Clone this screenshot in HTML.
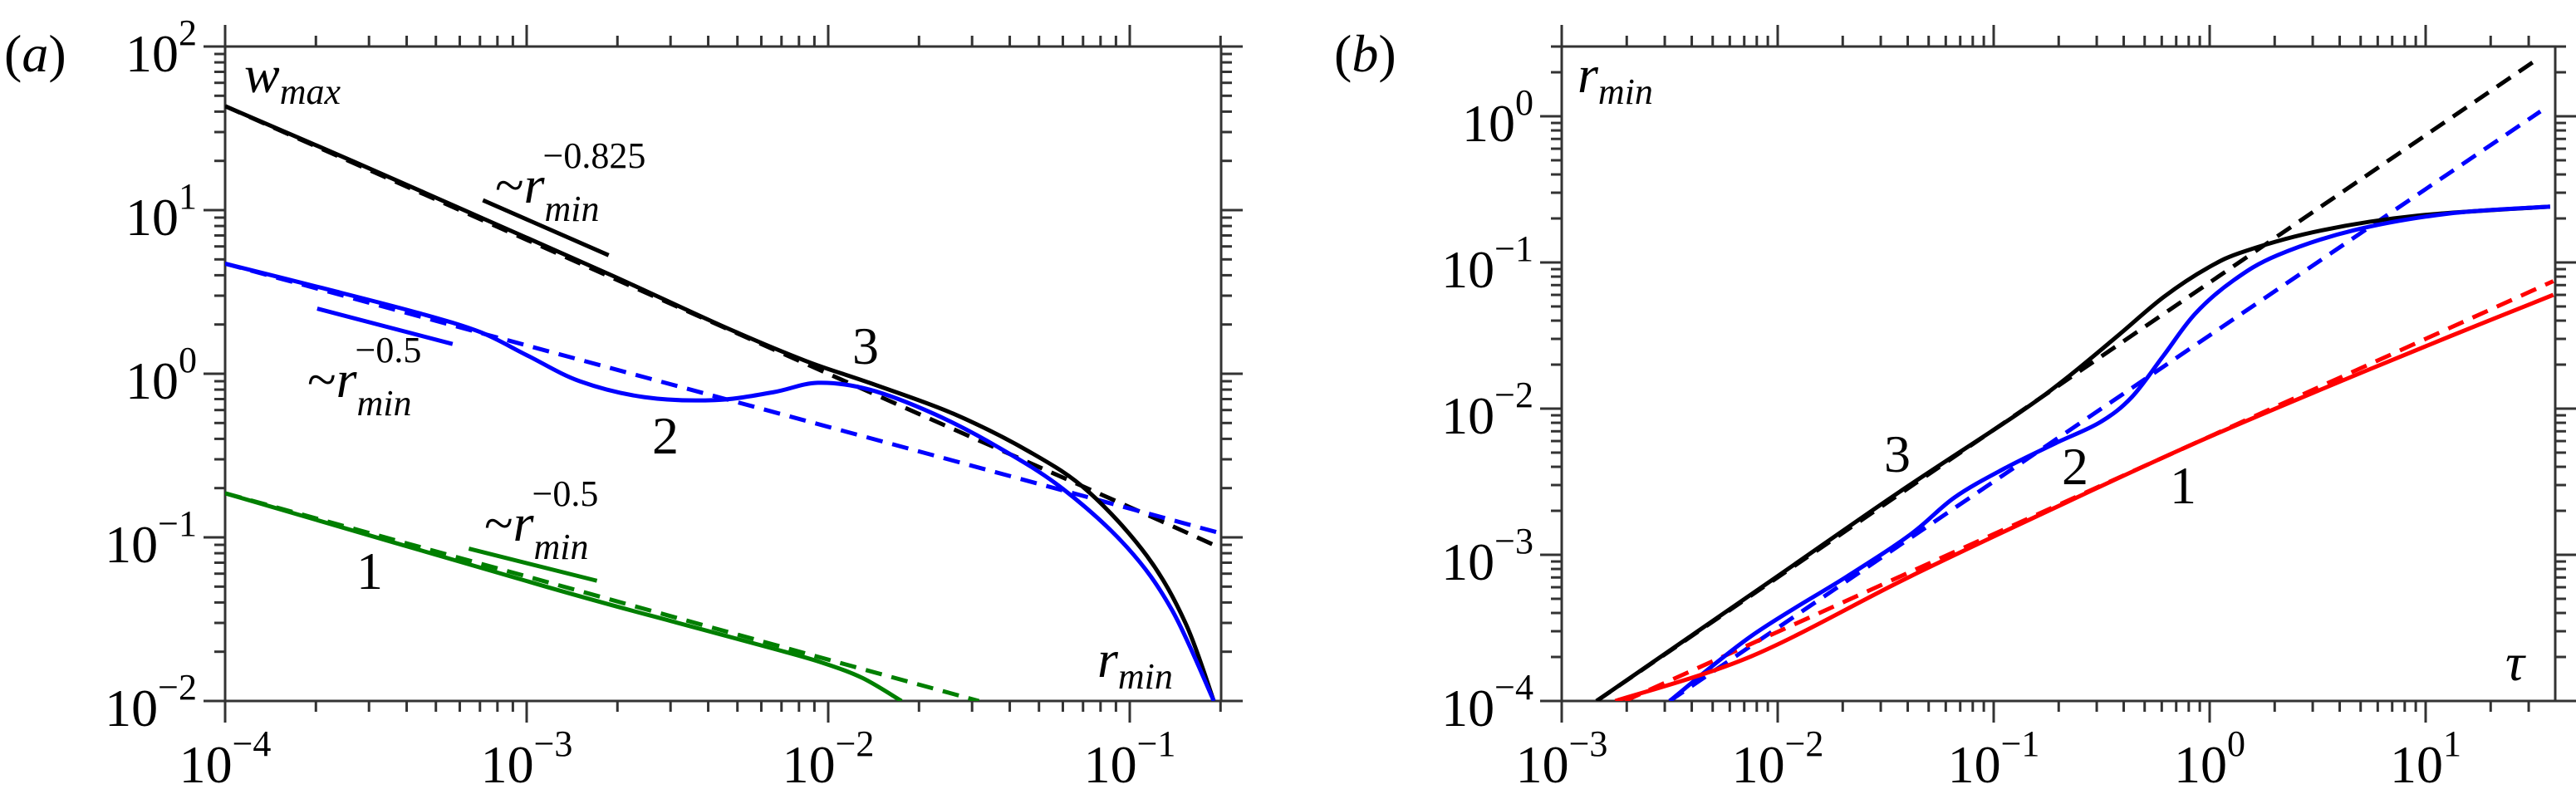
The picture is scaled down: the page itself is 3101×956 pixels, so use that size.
<!DOCTYPE html>
<html><head><meta charset="utf-8"><style>
html,body{margin:0;padding:0;background:#fff;}
svg{display:block;font-family:"Liberation Serif",serif;}
</style></head><body>
<svg id="fig" width="3101" height="956" viewBox="0 0 3101 956" xmlns="http://www.w3.org/2000/svg">
<defs>
<clipPath id="clipA"><rect x="271" y="56" width="1199" height="788"/></clipPath>
<clipPath id="clipB"><rect x="1880" y="56" width="1196" height="788"/></clipPath>
</defs>
<g id="panelA"></g>
<g id="panelB"></g>
<text x="5" y="86" font-size="64">(<tspan font-style="italic">a</tspan>)</text>
<text x="1606" y="86" font-size="64">(<tspan font-style="italic">b</tspan>)</text>
</svg>
<script>
// ---------- Panel (a) data: w_max vs r_min ----------
const a_black_r = [1e-4, 2.67e-4, 7.16e-4, 1.91e-3, 4.42e-3, 8.4e-3, 0.0137, 0.026, 0.047, 0.073, 0.114, 0.153, 0.19];
const a_black_w = [43.2, 19.8, 8.9, 4.0, 1.97, 1.20, 0.88, 0.57, 0.33, 0.19, 0.077, 0.030, 0.01];
const a_blackDash_r = [1e-4, 1e-3, 1e-2, 0.1, 0.195];
const a_blackDash_w = [43.2, 6.59, 1.00, 0.153, 0.088];
const a_blue_r = [1e-4, 2.09e-4, 4.38e-4, 7.0e-4, 1.0e-3, 1.5e-3, 2.45e-3, 4.21e-3, 6.55e-3, 9.24e-3, 0.0137, 0.0224, 0.0366, 0.060, 0.098, 0.138, 0.19];
const a_blue_w = [4.71, 3.35, 2.35, 1.80, 1.30, 0.90, 0.72, 0.69, 0.77, 0.88, 0.80, 0.569, 0.356, 0.198, 0.0869, 0.036, 0.01];
const a_blueDash_r = [1e-4, 1e-3, 1e-2, 0.1, 0.2];
const a_blueDash_w = [4.71, 1.49, 0.474, 0.150, 0.106];
const a_green_r = [1e-4, 1.17e-3, 3.13e-3, 6.5e-3, 9.5e-3, 0.0130, 0.0175];
const a_green_w = [0.186, 0.0497, 0.0302, 0.0210, 0.0172, 0.0138, 0.01];
const a_greenDash_r = [1e-4, 1e-3, 1e-2, 0.0316];
const a_greenDash_w = [0.186, 0.0577, 0.0179, 0.01];
const a_refBlack_r = [7.16e-4, 1.87e-3], a_refBlack_w = [11.5, 5.30];
const a_refBlue_r = [2.02e-4, 5.68e-4], a_refBlue_w = [2.50, 1.52];
const a_refGreen_r = [6.43e-4, 1.71e-3], a_refGreen_w = [0.0853, 0.0543];
const a_xTicks = [-4, -3, -2, -1];
const a_yTicks = [-2, -1, 0, 1, 2];

// ---------- Panel (b) data: r_min vs tau ----------
const b_black_t = [1.45e-3, 9.3e-3, 0.0359, 0.129, 0.222, 0.381, 0.612, 0.982, 1.47, 3.31, 9.12, 37.7];
const b_black_r = [1e-4, 6.64e-4, 2.64e-3, 9.2e-3, 0.0166, 0.0321, 0.058, 0.092, 0.120, 0.166, 0.209, 0.241];
const b_blackDash_t = [1.45e-3, 1.0, 32.9];
const b_blackDash_r = [1e-4, 0.073, 2.46];
const b_blue_t = [3.16e-3, 7.59e-3, 0.0209, 0.041, 0.0659, 0.113, 0.194, 0.311, 0.436, 0.612, 0.857, 1.29, 2.06, 4.64, 12.8, 37.7];
const b_blue_r = [1e-4, 2.8e-4, 7.1e-4, 1.37e-3, 2.47e-3, 3.92e-3, 5.81e-3, 8.07e-3, 0.0120, 0.0231, 0.0446, 0.0755, 0.112, 0.166, 0.216, 0.241];
const b_blueDash_t = [3.16e-3, 34.0];
const b_blueDash_r = [1e-4, 1.08];
const b_red_t = [1.77e-3, 7.59e-3, 0.041, 0.222, 0.857, 3.31, 12.8, 39.0];
const b_red_r = [1e-4, 2.03e-4, 7.1e-4, 2.32e-3, 5.81e-3, 0.0136, 0.031, 0.060];
const b_redDash_t = [1.96e-3, 39.0];
const b_redDash_r = [1e-4, 0.0745];
const b_xTicks = [-3, -2, -1, 0, 1];
const b_yTicks = [-4, -3, -2, -1, 0];

const NS = "http://www.w3.org/2000/svg";
function mk(tag, attrs, parent) {
  const e = document.createElementNS(NS, tag);
  for (const k in attrs) e.setAttribute(k, attrs[k]);
  parent.appendChild(e);
  return e;
}
function makeAxis(L, R, T, B, xmin, xmax, ymin, ymax) {
  return {
    L, R, T, B,
    x: v => L + (Math.log10(v) - xmin) / (xmax - xmin) * (R - L),
    y: v => B - (Math.log10(v) - ymin) / (ymax - ymin) * (B - T),
    xmin, xmax, ymin, ymax
  };
}
const AX = makeAxis(271, 1470, 56, 844, -4, -4 + 1199 / 363, -2, 2);
const BX = makeAxis(1880, 3076, 56, 844, -3, -3 + 1196 / 260, -4, -4 + 788 / 176);

function smoothPath(px) {
  if (px.length === 2) return `M${px[0][0]},${px[0][1]} L${px[1][0]},${px[1][1]}`;
  let d = `M${px[0][0]},${px[0][1]}`;
  for (let i = 0; i < px.length - 1; i++) {
    const p0 = px[i - 1] || px[i], p1 = px[i], p2 = px[i + 1], p3 = px[i + 2] || px[i + 1];
    const c1x = p1[0] + (p2[0] - p0[0]) / 6, c1y = p1[1] + (p2[1] - p0[1]) / 6;
    const c2x = p2[0] - (p3[0] - p1[0]) / 6, c2y = p2[1] - (p3[1] - p1[1]) / 6;
    d += ` C${c1x.toFixed(1)},${c1y.toFixed(1)} ${c2x.toFixed(1)},${c2y.toFixed(1)} ${p2[0].toFixed(1)},${p2[1].toFixed(1)}`;
  }
  return d;
}
function series(g, ax, xs, ys, color, dashed, name, clip) {
  const pts = xs.map((v, i) => [ax.x(v), ax.y(ys[i])]);
  const p = mk("path", {d: smoothPath(pts), fill: "none", stroke: color, "stroke-width": 5,
    "stroke-dasharray": dashed ? "20 12" : "none", "clip-path": clip}, g);
  
  
  return p;
}
function frameAndTicks(g, ax, xT, yT, prefix) {
  const col = "#333";
  const fr = mk("rect", {x: ax.L, y: ax.T, width: ax.R - ax.L, height: ax.B - ax.T, fill: "none", stroke: col, "stroke-width": 3}, g);
  
  
  const tg = mk("g", {stroke: col, "stroke-width": 3}, g);
  
  
  for (let d = Math.floor(ax.xmin); d <= Math.ceil(ax.xmax); d++) {
    for (let m = 1; m <= 9; m++) {
      const lv = d + Math.log10(m);
      if (lv < ax.xmin - 1e-6 || lv > ax.xmax + 1e-6) continue;
      const X = ax.L + (lv - ax.xmin) / (ax.xmax - ax.xmin) * (ax.R - ax.L);
      const len = m === 1 ? 26 : 13;
      mk("line", {x1: X, y1: ax.B, x2: X, y2: ax.B + len}, tg);
      mk("line", {x1: X, y1: ax.T, x2: X, y2: ax.T - len}, tg);
    }
  }
  for (let d = Math.floor(ax.ymin); d <= Math.ceil(ax.ymax); d++) {
    for (let m = 1; m <= 9; m++) {
      const lv = d + Math.log10(m);
      if (lv < ax.ymin - 1e-6 || lv > ax.ymax + 1e-6) continue;
      const Y = ax.B - (lv - ax.ymin) / (ax.ymax - ax.ymin) * (ax.B - ax.T);
      const len = m === 1 ? 26 : 13;
      mk("line", {x1: ax.L, y1: Y, x2: ax.L - len, y2: Y}, tg);
      mk("line", {x1: ax.R, y1: Y, x2: ax.R + len, y2: Y}, tg);
    }
  }
  xT.forEach(k => {
    const t = mk("text", {x: ax.x(Math.pow(10, k)), y: 942, "font-size": 64, "text-anchor": "middle"}, g);
    
    
    t.appendChild(document.createTextNode("10"));
    const s = mk("tspan", {dy: -32, "font-size": 44}, t);
    s.textContent = k < 0 ? "\u2212" + (-k) : String(k);
  });
  yT.forEach(k => {
    const t = mk("text", {x: ax.L - 34, y: ax.y(Math.pow(10, k)) + 30, "font-size": 64, "text-anchor": "end"}, g);
    
    
    t.appendChild(document.createTextNode("10"));
    const s = mk("tspan", {dy: -32, "font-size": 44}, t);
    s.textContent = k < 0 ? "\u2212" + (-k) : String(k);
  });
}
function label(g, x, y, html, name, size) {
  const t = mk("text", {x, y, "font-size": size || 64}, g);
  t.innerHTML = html;
  
  
  return t;
}

// ---- Panel A ----
const gA = document.getElementById("panelA");
frameAndTicks(gA, AX, a_xTicks, a_yTicks, "panel-a");
series(gA, AX, a_blackDash_r, a_blackDash_w, "#000", true, "curve-3-dashed", "url(#clipA)");
series(gA, AX, a_blueDash_r, a_blueDash_w, "#0000ff", true, "curve-2-dashed", "url(#clipA)");
series(gA, AX, a_greenDash_r, a_greenDash_w, "#007f00", true, "curve-1-dashed", "url(#clipA)");
series(gA, AX, a_black_r, a_black_w, "#000", false, "curve-3-solid", "url(#clipA)");
series(gA, AX, a_blue_r, a_blue_w, "#0000ff", false, "curve-2-solid", "url(#clipA)");
series(gA, AX, a_green_r, a_green_w, "#007f00", false, "curve-1-solid", "url(#clipA)");
series(gA, AX, a_refBlack_r, a_refBlack_w, "#000", false, "slope-0825-reference", "");
series(gA, AX, a_refBlue_r, a_refBlue_w, "#0000ff", false, "slope-05-reference-blue", "");
series(gA, AX, a_refGreen_r, a_refGreen_w, "#007f00", false, "slope-05-reference-green", "");
label(gA, 294, 111, '<tspan font-style="italic">w</tspan><tspan font-style="italic" font-size="44" dy="14">max</tspan>', "y-axis-title-wmax");
label(gA, 1321, 815, '<tspan font-style="italic">r</tspan><tspan font-style="italic" font-size="44" dy="14">min</tspan>', "x-axis-title-rmin");
label(gA, 596, 244, '~<tspan font-style="italic">r</tspan><tspan font-style="italic" font-size="44" dy="22">min</tspan><tspan font-size="44" dx="-68" dy="-64">\u22120.825</tspan>', "slope-label-0825");
label(gA, 370, 478, '~<tspan font-style="italic">r</tspan><tspan font-style="italic" font-size="44" dy="22">min</tspan><tspan font-size="44" dx="-68" dy="-64">\u22120.5</tspan>', "slope-label-05-blue");
label(gA, 583, 651, '~<tspan font-style="italic">r</tspan><tspan font-style="italic" font-size="44" dy="22">min</tspan><tspan font-size="44" dx="-68" dy="-64">\u22120.5</tspan>', "slope-label-05-green");
label(gA, 429, 709, '1', "curve-label-1");
label(gA, 785, 546, '2', "curve-label-2");
label(gA, 1026, 438, '3', "curve-label-3");

// ---- Panel B ----
const gB = document.getElementById("panelB");
frameAndTicks(gB, BX, b_xTicks, b_yTicks, "panel-b");
series(gB, BX, b_blackDash_t, b_blackDash_r, "#000", true, "curve-3-dashed", "url(#clipB)");
series(gB, BX, b_blueDash_t, b_blueDash_r, "#0000ff", true, "curve-2-dashed", "url(#clipB)");
series(gB, BX, b_redDash_t, b_redDash_r, "#ff0000", true, "curve-1-dashed", "url(#clipB)");
series(gB, BX, b_black_t, b_black_r, "#000", false, "curve-3-solid", "url(#clipB)");
series(gB, BX, b_blue_t, b_blue_r, "#0000ff", false, "curve-2-solid", "url(#clipB)");
series(gB, BX, b_red_t, b_red_r, "#ff0000", false, "curve-1-solid", "url(#clipB)");
label(gB, 1899, 111, '<tspan font-style="italic">r</tspan><tspan font-style="italic" font-size="44" dy="14">min</tspan>', "y-axis-title-rmin");
label(gB, 3016, 819, '<tspan font-style="italic">τ</tspan>', "x-axis-title-tau");
label(gB, 2268, 568, '3', "curve-label-3");
label(gB, 2482, 583, '2', "curve-label-2");
label(gB, 2612, 606, '1', "curve-label-1");
</script>
</body></html>
